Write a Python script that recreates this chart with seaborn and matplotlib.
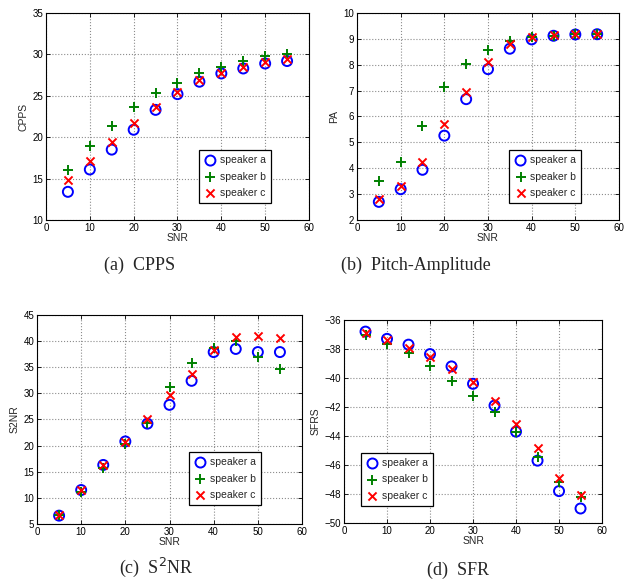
import matplotlib
matplotlib.use("Agg")
import matplotlib.pyplot as plt
import seaborn as sns
import pandas as pd

# SNR levels (dB)
snr = [5, 10, 15, 20, 25, 30, 35, 40, 45, 50, 55]
speakers = ["speaker a", "speaker b", "speaker c"]

# CPPS
cpps_a = [13.4, 16.1, 18.5, 20.9, 23.3, 25.2, 26.7, 27.7, 28.3, 28.9, 29.2]
cpps_b = [16.0, 18.9, 21.4, 23.6, 25.3, 26.5, 27.7, 28.5, 29.2, 29.8, 30.0]
cpps_c = [14.8, 17.1, 19.4, 21.7, 23.6, 25.4, 26.9, 27.7, 28.5, 29.1, 29.5]

# Pitch-Amplitude
pa_a = [2.70, 3.19, 3.94, 5.26, 6.67, 7.83, 8.62, 8.98, 9.12, 9.17, 9.18]
pa_b = [3.52, 4.26, 5.65, 7.15, 8.01, 8.57, 8.90, 9.06, 9.13, 9.18, 9.18]
pa_c = [2.80, 3.33, 4.25, 5.72, 6.94, 8.12, 8.82, 9.07, 9.14, 9.18, 9.18]

# S2NR
s2nr_a = [6.6, 11.5, 16.3, 20.8, 24.2, 27.8, 32.4, 37.9, 38.5, 37.9, 37.9]
s2nr_b = [6.7, 11.2, 15.8, 20.3, 24.3, 31.2, 35.9, 38.7, 40.0, 37.0, 34.6]
s2nr_c = [6.7, 11.6, 16.2, 20.6, 25.1, 29.6, 33.8, 38.3, 40.7, 40.9, 40.5]

# SFR
sfr_a = [-36.8, -37.3, -37.7, -38.35, -39.2, -40.4, -41.9, -43.7, -45.7, -47.8, -49.0]
sfr_b = [-37.0, -37.65, -38.25, -39.2, -40.2, -41.25, -42.35, -43.75, -45.45, -47.2, -48.2]
sfr_c = [-36.9, -37.4, -37.9, -38.55, -39.35, -40.3, -41.6, -43.2, -44.85, -46.9, -48.1]

x_ticks = [0, 10, 20, 30, 40, 50, 60]
y_ticks_cpps = [10, 15, 20, 25, 30, 35]
y_ticks_pa = [2, 3, 4, 5, 6, 7, 8, 9, 10]
y_ticks_s2nr = [5, 10, 15, 20, 25, 30, 35, 40, 45]
y_ticks_sfr = [-50, -48, -46, -44, -42, -40, -38, -36]

captions = ["(a)  CPPS", "(b)  Pitch-Amplitude", "(c)  S$^2$NR", "(d)  SFR"]
ylabels = ["CPPS", "PA", "S2NR", "SFRS"]

sns.set_theme(style="white")
plt.rcParams["font.family"] = ["Liberation Sans", "DejaVu Sans"]


def frame(values):
    rows = []
    for spk, ys in zip(speakers, values):
        for xv, yv in zip(snr, ys):
            rows.append({"SNR": xv, "value": yv, "speaker": spk})
    return pd.DataFrame(rows)


styles = {
    "speaker a": dict(marker="o", s=52, facecolors="none", edgecolors="#0000ff", linewidths=1.4),
    "speaker b": dict(marker="+", s=60, color="#008000", linewidths=1.4),
    "speaker c": dict(marker="x", s=34, color="#ff0000", linewidths=1.4),
}

fig = plt.figure(figsize=(6.24, 5.86), dpi=100)

panels = [
    # (rect, data, yticks, legend loc, legend anchor, font size)
    ([0.0737, 0.6246, 0.4215, 0.3532], [cpps_a, cpps_b, cpps_c], y_ticks_cpps,
     "lower right", (0.855, 0.082)),
    ([0.5721, 0.6246, 0.4199, 0.3532], [pa_a, pa_b, pa_c], y_ticks_pa,
     "lower right", (0.855, 0.082)),
    ([0.0593, 0.1058, 0.4247, 0.3567], [s2nr_a, s2nr_b, s2nr_c], y_ticks_s2nr,
     "lower right", (0.845, 0.091)),
    ([0.5513, 0.1075, 0.4135, 0.3464], [sfr_a, sfr_b, sfr_c], y_ticks_sfr,
     "lower left", (0.066, 0.084)),
]

caption_pos = [(0.223, 0.548), (0.667, 0.548), (0.250, 0.031), (0.734, 0.027)]

for i, (rect, data, yticks, loc, anchor) in enumerate(panels):
    ax = fig.add_axes(rect)
    df = frame(data)
    for spk in speakers:
        sub = df[df["speaker"] == spk]
        sns.scatterplot(data=sub, x="SNR", y="value", ax=ax, label=spk,
                        legend=False, zorder=3, **styles[spk])
    ax.set_xlim(x_ticks[0], x_ticks[-1])
    ax.set_ylim(yticks[0], yticks[-1])
    ax.set_xticks(x_ticks)
    ax.set_yticks(yticks)
    ax.grid(True, linestyle=":", color="0.55", linewidth=0.8)
    ax.tick_params(direction="in", length=3, width=0.6, labelsize=7,
                   top=True, right=True, bottom=True, left=True, pad=2,
                   colors="black")
    for sp in ax.spines.values():
        sp.set_visible(True)
        sp.set_color("black")
        sp.set_linewidth(0.8)
    ax.set_xlabel("SNR", fontsize=7.5, labelpad=0)
    ax.set_ylabel(ylabels[i], fontsize=7.5, labelpad=3)
    leg = ax.legend(loc=loc, bbox_to_anchor=anchor, fontsize=7.5, frameon=True,
                    fancybox=False, framealpha=1, edgecolor="black",
                    handletextpad=0.3, handlelength=1.2, borderpad=0.5,
                    labelspacing=0.6, borderaxespad=0)
    leg.get_frame().set_linewidth(0.9)
    fig.text(caption_pos[i][0], caption_pos[i][1], captions[i], ha="center",
             va="center", fontsize=13, family=["Liberation Serif", "DejaVu Serif"])

fig.savefig("out.png", dpi=100, facecolor="white")
